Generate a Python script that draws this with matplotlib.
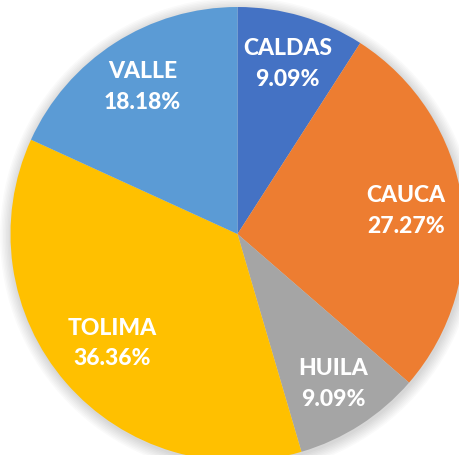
import numpy as np
import matplotlib
matplotlib.use('Agg')
import matplotlib.pyplot as plt
from matplotlib.patches import Circle

# data
departments = ["CALDAS", "CAUCA", "HUILA", "TOLIMA", "VALLE"]
counts = [1, 3, 1, 4, 2]
colors = ["#4472C4", "#ED7D31", "#A5A5A5", "#FFC000", "#5B9BD5"]
label_dist = [0.785, 0.75, 0.78, 0.73, 0.775]

W, H = 460, 456
cx, cy, R = 237.5, H - 235, 227

fig = plt.figure(figsize=(W / 100, H / 100), dpi=100)
ax = fig.add_axes([0, 0, 1, 1])

# soft shadow around the pie
for i in range(8):
    ax.add_patch(Circle((cx + 1, cy - 2), R + 1 + i * 1.5, color="black",
                        alpha=0.018, lw=0, zorder=0))

wedges, _ = ax.pie(counts, colors=colors, startangle=90, counterclock=False,
                   radius=R, center=(cx, cy), frame=True,
                   wedgeprops=dict(linewidth=0))
ax.set_xlim(0, W)
ax.set_ylim(0, H)
ax.set_aspect("equal")
ax.axis("off")

total = sum(counts)
for w, name, n, d in zip(wedges, departments, counts, label_dist):
    mid = np.deg2rad((w.theta1 + w.theta2) / 2)
    x = cx + d * R * np.cos(mid)
    y = cy + d * R * np.sin(mid)
    ax.text(x, y, f"{name}\n{100 * n / total:.2f}%", ha="center", va="center",
            color="white", fontsize=16.5, fontweight="black", family="Lato",
            linespacing=1.58, zorder=5)

fig.savefig("out.png", dpi=100)
